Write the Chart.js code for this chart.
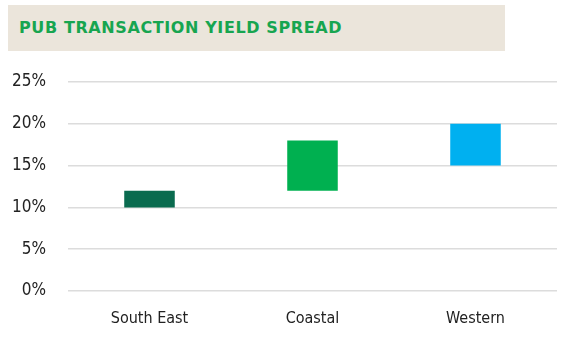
<!DOCTYPE html>
<html>
<head>
<meta charset="utf-8">
<script src="https://cdn.jsdelivr.net/npm/chart.js@4/dist/chart.umd.min.js"></script>
<style>
	html, body { margin: 0; padding: 0; background: #fff; }
	#wrap { position: relative; width: 580px; height: 352px; }
	#band {
		position: absolute; left: 8px; top: 5px; width: 497px; height: 46px;
		background: #ebe5db;
	}
	#band span {
		position: absolute; left: 11px; top: 13px;
		font: bold 16px "DejaVu Sans", sans-serif; letter-spacing: 0.6px;
		color: #17a550;
	}
	#myChart { position: absolute; left: 0; top: 0; }
</style>
</head>
<body>
<div id="wrap">
	<div id="band"><span>PUB TRANSACTION YIELD SPREAD</span></div>
	<canvas id="myChart" width="580" height="352"></canvas>
</div>
<script>
const regions = ['South East', 'Coastal', 'Western'];
const lows = [10, 12, 15];
const highs = [12, 18, 20];
const barColors = ['#0a6b4f', '#00b050', '#00b0f0'];
const yTicks = [0, 5, 10, 15, 20, 25];

const tickFont = { family: '"Liberation Sans Narrow", "DejaVu Sans Condensed", sans-serif', size: 17 };

const data = {
	labels: regions,
	datasets: [{
		label: 'Yield spread',
		data: regions.map((r, i) => [lows[i], highs[i]]),
		backgroundColor: barColors,
		borderWidth: 0,
		barPercentage: 0.31,
		categoryPercentage: 1,
	}],
};

const config = {
	type: 'bar',
	data,
	options: {
		responsive: false,
		animation: false,
		layout: { padding: { left: 0, right: 23, top: 82, bottom: 0 } },
		plugins: { legend: { display: false }, tooltip: { enabled: false } },
		scales: {
			x: {
				grid: { display: false },
				border: { display: false },
				ticks: { color: '#222', font: { ...tickFont, size: 16 }, padding: 10 },
				afterFit(scale) { scale.height = 61; },
			},
			y: {
				min: 0,
				max: 25,
				afterBuildTicks(scale) { scale.ticks = yTicks.map(v => ({ value: v })); },
				grid: { color: '#dcdcdc', lineWidth: 1.5, drawTicks: false },
				border: { display: false },
				ticks: { color: '#222', font: tickFont, padding: 22, callback: v => v + '%' },
				afterFit(scale) { scale.width = 68; },
			},
		},
	},
};

new Chart(document.getElementById('myChart'), config);
</script>
</body>
</html>
